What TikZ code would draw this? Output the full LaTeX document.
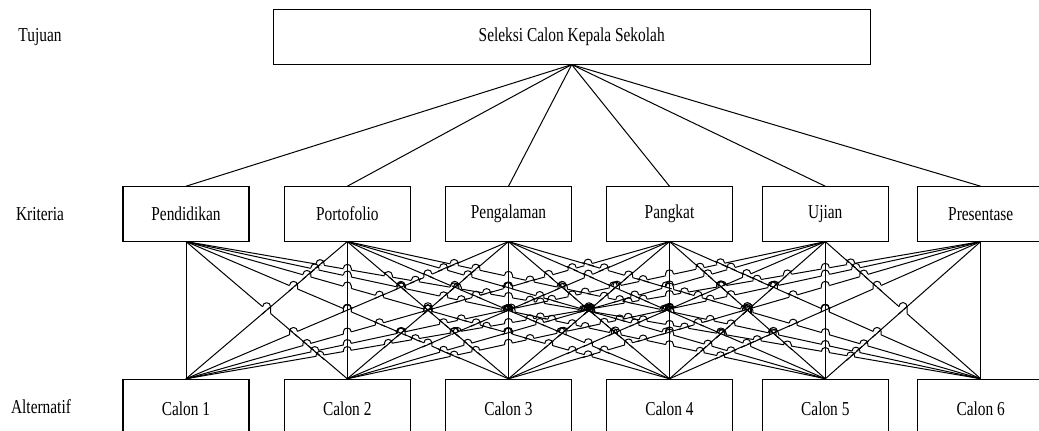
\documentclass[tikz,border=0pt]{standalone}
\usepackage{fontspec}
\usepackage{graphicx}
\setmainfont{Liberation Serif}
\newcommand{\sqz}[1]{\scalebox{0.78}[1]{#1}}
\def\cxlist{{186.0,347.3,508.5,669.5,825.3,980.7}}
% computes the crossing of line (#1->#2) with line (#3->#4); line #3->#4 hops
\newcommand\hopcalc[4]{%
 \def\hopok{0}%
 \ifnum#1=#3\relax\else\ifnum#2=#4\relax\else
  \pgfmathsetmacro\hpCi{\cxlist[#1-1]}%
  \pgfmathsetmacro\hpCj{\cxlist[#2-1]}%
  \pgfmathsetmacro\hpCk{\cxlist[#3-1]}%
  \pgfmathsetmacro\hpCl{\cxlist[#4-1]}%
  \pgfmathsetmacro\hpdA{\hpCj-\hpCi}%
  \pgfmathsetmacro\hpdB{\hpCl-\hpCk}%
  \pgfmathsetmacro\hpDen{\hpdA-\hpdB}%
  \pgfmathsetmacro\hpADen{abs(\hpDen)}%
  \ifdim\hpADen pt>0.01pt
    \pgfmathsetmacro\hpS{(\hpCk-\hpCi)/\hpDen}%
    \pgfmathtruncatemacro\hopok{((\hpS>0.01)&&(\hpS<0.99))&&((abs(\hpdB)>abs(\hpdA)+0.05)||((abs(abs(\hpdB)-abs(\hpdA))<=0.05)&&(\hpdB>0)))}%
  \fi
 \fi\fi
 \ifnum\hopok=1
  \pgfmathsetmacro\hpPx{\hpCi+\hpS*\hpdA}%
  \pgfmathsetmacro\hpPy{241.0+\hpS*138.3}%
  \pgfmathsetmacro\hpM{138.3/\hpdB}%
  \pgfmathsetmacro\hpxL{\hpPx-4}%
  \pgfmathsetmacro\hpxR{\hpPx+4}%
  \pgfmathsetmacro\hpyL{\hpPy-4*\hpM}%
  \pgfmathsetmacro\hpyR{\hpPy+4*\hpM}%
  \pgfmathsetmacro\hpLA{veclen(\hpdA/100,1.383)*100}%
  \pgfmathsetmacro\hpux{\hpdA/\hpLA*6}%
  \pgfmathsetmacro\hpuy{138.3/\hpLA*6}%
  \pgfmathsetmacro\hpax{\hpPx-\hpux}%
  \pgfmathsetmacro\hpay{\hpPy-\hpuy}%
  \pgfmathsetmacro\hpbx{\hpPx+\hpux}%
  \pgfmathsetmacro\hpby{\hpPy+\hpuy}%
  \pgfmathsetmacro\hpTop{min(\hpyL,\hpyR)-5.333}%
 \fi
}
\begin{document}
\begin{tikzpicture}[x=0.75pt,y=-0.75pt,
  every node/.style={font=\fontsize{14.8}{16}\selectfont, inner sep=0pt},
  goalbox/.style={draw, line width=0.8pt, minimum width=447.5pt, minimum height=40.9pt},
  critbox/.style={draw, line width=0.8pt, minimum width=94.5pt, minimum height=40.7pt},
  altbox/.style={draw, line width=0.8pt, minimum width=94.5pt, minimum height=43.5pt},
  level/.style={},
  link/.style={line width=0.75pt},
  erase/.style={white, line width=1.6pt, line cap=butt},
  hop/.style={line width=0.75pt, line join=round}]
\useasboundingbox (0,0) rectangle (1039,430);
\fill[white] (0,0) rectangle (1039,430);
% level labels
\node[level] (ltuj) at (40,37) {\sqz{Tujuan}};
\node[level] (lkri) at (40,214) {\sqz{Kriteria}};
\node[level] (lalt) at (41,407) {\sqz{Alternatif}};
% goal
\node[goalbox] (goal) at (571.7,36.8) {\sqz{Seleksi Calon Kepala Sekolah}};
% criteria
\node[critbox] (k1) at (186.0,213.9) {\sqz{Pendidikan}};
\node[critbox] (k2) at (347.3,213.9) {\sqz{Portofolio}};
\node[critbox] (k3) at (508.5,213.9) {\sqz{Pengalaman}};
\node[critbox] (k4) at (669.5,213.9) {\sqz{Pangkat}};
\node[critbox] (k5) at (825.3,213.9) {\sqz{Ujian}};
\node[critbox] (k6) at (980.7,213.9) {\sqz{Presentase}};
% alternatives
\node[altbox] (a1) at (186.0,408.3) {\sqz{Calon 1}};
\node[altbox] (a2) at (347.3,408.3) {\sqz{Calon 2}};
\node[altbox] (a3) at (508.5,408.3) {\sqz{Calon 3}};
\node[altbox] (a4) at (669.5,408.3) {\sqz{Calon 4}};
\node[altbox] (a5) at (825.3,408.3) {\sqz{Calon 5}};
\node[altbox] (a6) at (980.7,408.3) {\sqz{Calon 6}};
% goal to criteria
\foreach \i in {1,...,6} {
  \draw[link] (goal.south) -- (k\i.north);
}
% criteria to alternatives
\foreach \i in {1,...,6} {
  \foreach \j in {1,...,6} {
    \draw[link] (k\i.south) -- (a\j.north);
  }
}
% line jumps: pass 1, open the gaps
\foreach \i in {1,...,6}{\foreach \j in {1,...,6}{\foreach \k in {1,...,6}{\foreach \l in {1,...,6}{%
  \hopcalc{\i}{\j}{\k}{\l}%
  \ifnum\hopok=1 \draw[erase] (\hpxL,\hpyL) -- (\hpxR,\hpyR);\fi
}}}}
% pass 2, restore the crossed lines
\foreach \i in {1,...,6}{\foreach \j in {1,...,6}{\foreach \k in {1,...,6}{\foreach \l in {1,...,6}{%
  \hopcalc{\i}{\j}{\k}{\l}%
  \ifnum\hopok=1 \draw[link] (\hpax,\hpay) -- (\hpbx,\hpby);\fi
}}}}
% pass 3, draw the jumps
\foreach \i in {1,...,6}{\foreach \j in {1,...,6}{\foreach \k in {1,...,6}{\foreach \l in {1,...,6}{%
  \hopcalc{\i}{\j}{\k}{\l}%
  \ifnum\hopok=1
    \ifdim\hpyR pt>\hpyL pt
      \draw[hop] (\hpxL,\hpyL) .. controls (\hpxL,\hpTop) and (\hpxR,\hpTop) .. (\hpxR,\hpyL) -- (\hpxR,\hpyR);
    \else
      \draw[hop] (\hpxL,\hpyL) -- (\hpxL,\hpyR) .. controls (\hpxL,\hpTop) and (\hpxR,\hpTop) .. (\hpxR,\hpyR);
    \fi
  \fi
}}}}
\end{tikzpicture}
\end{document}
